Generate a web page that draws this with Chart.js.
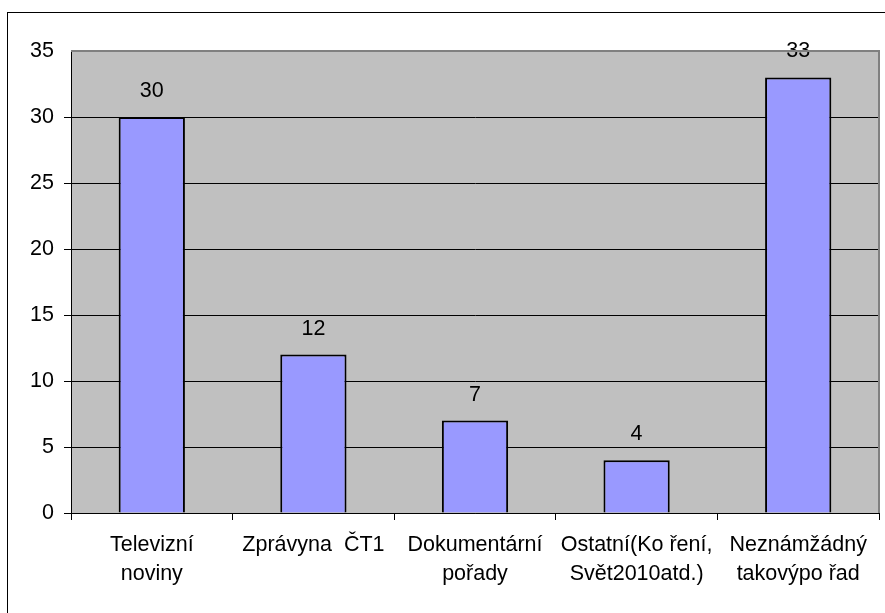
<!DOCTYPE html>
<html>
<head>
<meta charset="utf-8">
<script src="https://cdn.jsdelivr.net/npm/chart.js@4/dist/chart.umd.min.js"></script>
<style>
  html, body { margin: 0; padding: 0; background: #fff; overflow: hidden; }
  #wrap { position: relative; width: 885px; height: 613px; }
  #frame { position: absolute; left: 7px; top: 12px; width: 900px; height: 620px; border: 1px solid #000; }
  canvas { position: absolute; left: 0; top: 0; }
</style>
</head>
<body>
<div id="wrap">
  <div id="frame"></div>
  <canvas id="chart" width="885" height="613"></canvas>
</div>
<script>
// chart data
const categories = [
  ['Televizní', 'noviny'],
  'Zprávyna  ČT1',
  ['Dokumentární', 'pořady'],
  ['Ostatní(Ko ření,', 'Svět2010atd.)'],
  ['Neznámžádný', 'takovýpo řad']
];
const counts = [30, 12, 7, 4, 33];
const yTicks = [0, 5, 10, 15, 20, 25, 30, 35];

const FONT = "'Liberation Sans', Arial, sans-serif";
const FONT_SIZE = 21.5;

// gray plot background + gray top/right edge
const plotBackground = {
    id: 'plotBackground',
    beforeDraw(chart) {
        const { ctx, chartArea: a } = chart;
        ctx.save();
        ctx.fillStyle = '#c0c0c0';
        ctx.fillRect(a.left, a.top, a.right - a.left, a.bottom - a.top);
        ctx.restore();
    },
    afterDraw(chart) {
        const { ctx, chartArea: a } = chart;
        ctx.save();
        ctx.strokeStyle = '#808080';
        ctx.lineWidth = 2;
        ctx.beginPath();
        ctx.moveTo(a.left, a.top);
        ctx.lineTo(a.right, a.top);
        ctx.lineTo(a.right, a.bottom);
        ctx.stroke();
        ctx.restore();
    }
};

// value labels above each bar
const valueLabels = {
    id: 'valueLabels',
    afterDatasetsDraw(chart) {
        const ctx = chart.ctx;
        const meta = chart.getDatasetMeta(0);
        ctx.save();
        ctx.font = FONT_SIZE + 'px ' + FONT;
        ctx.fillStyle = '#000';
        ctx.textAlign = 'center';
        ctx.textBaseline = 'middle';
        meta.data.forEach((bar, i) => {
            ctx.fillText(String(counts[i]), bar.x, bar.y - 26);
        });
        ctx.restore();
    }
};

new Chart(document.getElementById('chart'), {
    type: 'bar',
    data: {
        labels: categories,
        datasets: [{
            data: counts,
            backgroundColor: '#9999ff',
            borderColor: '#000',
            borderWidth: 2,
            categoryPercentage: 1,
            barPercentage: 0.41
        }]
    },
    options: {
        responsive: false,
        animation: false,
        layout: { padding: { left: 0, top: 51, right: 6, bottom: 0 } },
        plugins: {
            legend: { display: false },
            tooltip: { enabled: false }
        },
        scales: {
            x: {
                offset: true,
                grid: { display: true, offset: true, drawOnChartArea: false, drawTicks: true, tickLength: 7, color: '#000' },
                border: { color: '#000', width: 1 },
                ticks: {
                    color: '#000',
                    font: { family: FONT, size: FONT_SIZE, lineHeight: 1.33 },
                    padding: 11,
                    maxRotation: 0,
                    autoSkip: false
                },
                afterFit(scale) { scale.height = 100; }
            },
            y: {
                min: 0,
                max: 35,
                afterBuildTicks(scale) { scale.ticks = yTicks.map(v => ({ value: v })); },
                grid: {
                    color: ctx => (ctx.tick && ctx.tick.value === 35 ? 'rgba(0,0,0,0)' : '#000'),
                    lineWidth: 1,
                    tickLength: 7,
                    drawTicks: true
                },
                border: { color: '#000', width: 1 },
                ticks: {
                    color: '#000',
                    font: { family: FONT, size: FONT_SIZE },
                    padding: 10
                },
                afterFit(scale) { scale.width = 71; }
            }
        }
    },
    plugins: [plotBackground, valueLabels]
});
</script>
</body>
</html>
